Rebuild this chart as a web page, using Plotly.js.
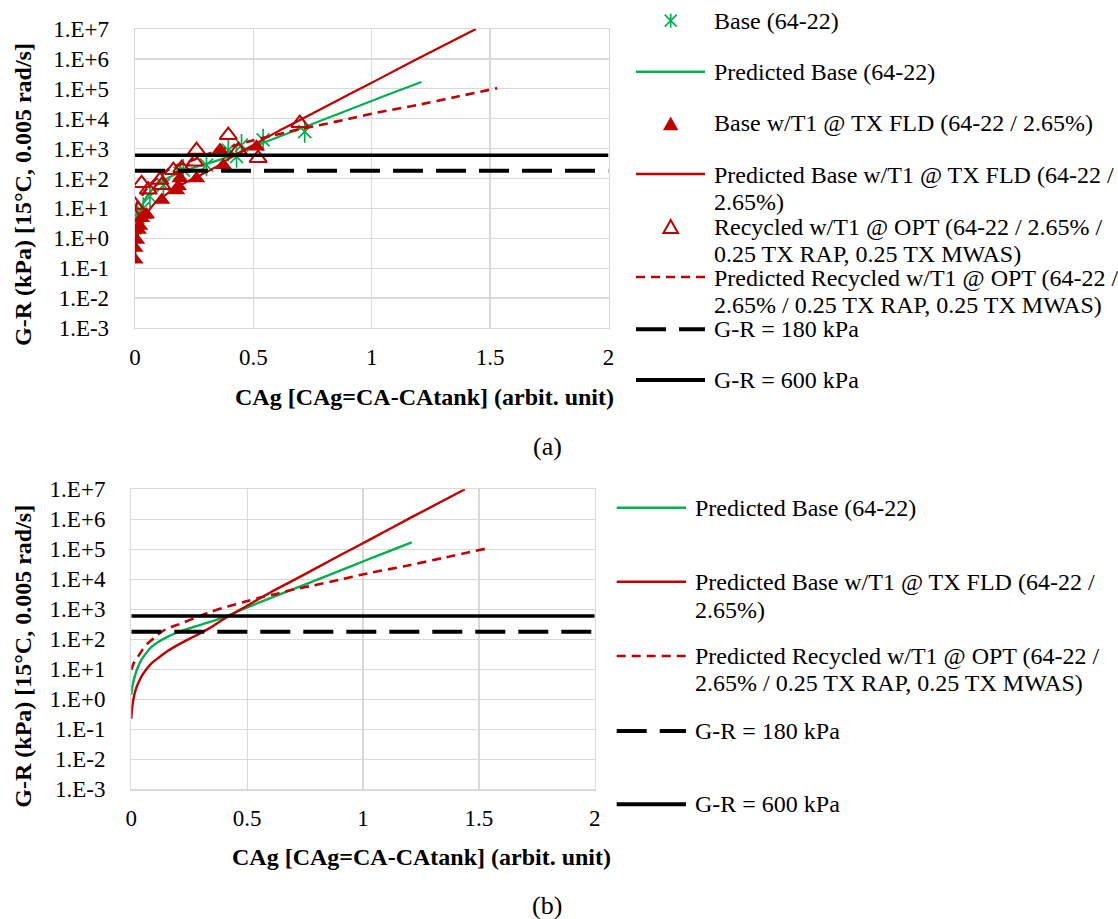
<!DOCTYPE html>
<html>
<head>
<meta charset="utf-8">
<script src="https://cdn.plot.ly/plotly-3.0.1.min.js"></script>
<style>html,body{margin:0;padding:0;background:#fff;}#chart{width:1118px;height:919px;}</style>
</head>
<body>
<div id="chart"></div>
<script>
// ---------- data ----------
const xTickVals = [0, 0.5, 1, 1.5, 2];
const xTickText = ['0', '0.5', '1', '1.5', '2'];
const yTickVals = [1e-3, 1e-2, 1e-1, 1e0, 1e1, 1e2, 1e3, 1e4, 1e5, 1e6, 1e7];
const yTickText = ['1.E-3', '1.E-2', '1.E-1', '1.E+0', '1.E+1', '1.E+2', '1.E+3', '1.E+4', '1.E+5', '1.E+6', '1.E+7'];

// measured: Base (64-22)
const baseX = [0, 0.005, 0.012, 0.035, 0.063, 0.12, 0.19, 0.204, 0.302, 0.394, 0.429, 0.45, 0.541, 0.717];
const baseY = [2.2, 3.5, 5, 10, 25, 60, 150, 190, 280, 890, 540, 1300, 1950, 3700];

// measured: Base w/T1 @ TX FLD
const t1X = [0, 0, 0.007, 0.014, 0.02, 0.028, 0.042, 0.049, 0.113, 0.176, 0.183, 0.19, 0.26, 0.359, 0.373, 0.513];
const t1Y = [0.19, 0.47, 0.87, 1.9, 2.6, 4.7, 6, 6.3, 19, 40, 55, 100, 100, 890, 280, 1150];

// measured: Recycled w/T1 @ OPT
const recX = [0, 0, 0.028, 0.056, 0.105, 0.113, 0.162, 0.197, 0.253, 0.26, 0.394, 0.436, 0.52, 0.696];
const recY = [13, 5.2, 69, 42, 89, 60, 190, 220, 360, 890, 2800, 890, 480, 7100];

// predicted curves
const predBaseX = [0, 0.005, 0.0145, 0.025, 0.043, 0.065, 0.087, 0.12, 0.158, 0.21, 0.273, 0.34, 0.403, 0.5, 0.6, 0.705, 0.8, 0.901, 1.021, 1.1, 1.21];
const predBaseY = [1.38, 2.82, 5.62, 10, 20.4, 35.5, 56.2, 85.1, 123, 182, 263, 380, 562, 1150, 2340, 4900, 9550, 19500, 45700, 79400, 170000];

const predT1X = [0, 0.005, 0.0145, 0.025, 0.043, 0.065, 0.087, 0.12, 0.158, 0.21, 0.273, 0.34, 0.403, 0.5, 0.6, 0.705, 0.8, 0.901, 1.021, 1.2, 1.44];
const predT1Y = [0.224, 0.631, 1.58, 2.82, 5.62, 10, 15.8, 25.1, 41.7, 70.8, 126, 240, 490, 1320, 3630, 9770, 24000, 63100, 195000, 1070000, 10000000];

const predRecX = [0, 0.01, 0.029, 0.05, 0.072, 0.1, 0.13, 0.17, 0.216, 0.28, 0.345, 0.42, 0.489, 0.56, 0.633, 0.7, 0.777, 0.9, 1.021, 1.2, 1.35, 1.53];
const predRecY = [9.55, 15.8, 26.3, 46.8, 74.1, 115, 178, 251, 339, 537, 832, 1260, 1780, 2510, 3390, 4570, 6030, 9770, 15800, 29500, 52500, 105000];

// threshold lines
const thrX = [0, 2];
const thr180 = [180, 180];
const thr600 = [600, 600];

// legend labels
const nameBase = 'Base (64-22)';
const namePredBase = 'Predicted Base (64-22)';
const nameT1 = 'Base w/T1 @ TX FLD (64-22 / 2.65%)';
const namePredT1 = ['Predicted Base w/T1 @ TX FLD (64-22 /', '2.65%)'];
const nameRec = ['Recycled w/T1 @ OPT (64-22 / 2.65% /', '0.25 TX RAP, 0.25 TX MWAS)'];
const namePredRecA = ['Predicted Recycled w/T1 @ OPT (64-22 /', '2.65% / 0.25 TX RAP, 0.25 TX MWAS)'];
const namePredRecB = ['Predicted Recycled w/T1 @ OPT (64-22 /', '2.65% / 0.25 TX RAP, 0.25 TX MWAS)'];
const name180 = 'G-R = 180 kPa';
const name600 = 'G-R = 600 kPa';
const yTitle = 'G-R (kPa) [15°C, 0.005 rad/s]';
const xTitle = 'CAg [CAg=CA-CAtank] (arbit. unit)';

// ---------- styling ----------
const W = 1118, H = 919;
const GREEN = '#00B050', RED = '#C00000', BLACK = '#000000';
const FONT = 'Liberation Serif, Times New Roman, serif';
const px = v => v / W;
const py = v => 1 - v / H;

function axisX(domain, anchor) {
  return {
    domain: domain, anchor: anchor, range: [0, 2], tickvals: xTickVals, ticktext: xTickText,
    showgrid: true, gridcolor: '#d9d9d9', gridwidth: 1.3, zeroline: false,
    showline: true, linecolor: '#d9d9d9', linewidth: 1.3, mirror: true,
    ticks: '', ticklabelstandoff: 8, tickfont: {family: FONT, size: 23, color: BLACK}, fixedrange: true
  };
}
function axisY(domain, anchor) {
  return {
    domain: domain, anchor: anchor, type: 'log', range: [-3, 7], tickvals: yTickVals, ticktext: yTickText,
    showgrid: true, gridcolor: '#d9d9d9', gridwidth: 1.3, zeroline: false,
    showline: true, linecolor: '#d9d9d9', linewidth: 1.3, mirror: true,
    ticks: '', ticklabelstandoff: 20, tickfont: {family: FONT, size: 23, color: BLACK}, fixedrange: true
  };
}

const lineSpline = {shape: 'spline', smoothing: 0.9};
const traces = [];
function curve(x, y, xa, ya, color, width, dash) {
  return {x: x, y: y, xaxis: xa, yaxis: ya, type: 'scatter', mode: 'lines', showlegend: false, hoverinfo: 'skip',
    line: Object.assign({color: color, width: width, dash: dash || 'solid'}, lineSpline)};
}
function hline(y, xa, ya, width, dash) {
  return {x: thrX, y: y, xaxis: xa, yaxis: ya, type: 'scatter', mode: 'lines', showlegend: false, hoverinfo: 'skip',
    line: {color: BLACK, width: width, dash: dash || 'solid'}};
}
const DASH_RED = '9px,6px';
const DASH_BLACK = '30px,13px';

// top panel (a)
traces.push({x: baseX, y: baseY, xaxis: 'x', yaxis: 'y', type: 'scatter', mode: 'markers', showlegend: false,
  marker: {symbol: 'x-thin-open', size: 13, color: GREEN, line: {color: GREEN, width: 1.7}}});
traces.push({x: baseX, y: baseY, xaxis: 'x', yaxis: 'y', type: 'scatter', mode: 'markers', showlegend: false,
  marker: {symbol: 'line-ns-open', size: 16, color: GREEN, line: {color: GREEN, width: 1.7}}});
traces.push(curve(predBaseX, predBaseY, 'x', 'y', GREEN, 2.2));
traces.push({x: t1X, y: t1Y, xaxis: 'x', yaxis: 'y', type: 'scatter', mode: 'markers', showlegend: false,
  marker: {symbol: 'triangle-up', size: 15, color: RED, line: {width: 0}}});
traces.push(curve(predT1X, predT1Y, 'x', 'y', RED, 2.2));
traces.push({x: recX, y: recY, xaxis: 'x', yaxis: 'y', type: 'scatter', mode: 'markers', showlegend: false,
  marker: {symbol: 'triangle-up-open', size: 15, color: RED, line: {color: RED, width: 2}}});
traces.push(curve(predRecX, predRecY, 'x', 'y', RED, 2.6, DASH_RED));
traces.push(hline(thr180, 'x', 'y', 4, DASH_BLACK));
traces.push(hline(thr600, 'x', 'y', 3.6));

// bottom panel (b)
traces.push(curve(predBaseX, predBaseY, 'x2', 'y2', GREEN, 2.4));
traces.push(curve(predT1X, predT1Y, 'x2', 'y2', RED, 2.4));
traces.push(curve(predRecX, predRecY, 'x2', 'y2', RED, 2.6, DASH_RED));
traces.push(hline(thr180, 'x2', 'y2', 4, DASH_BLACK));
traces.push(hline(thr600, 'x2', 'y2', 3.6));

// ---------- manual legends (Excel-style) ----------
const shapes = [];
const annotations = [];
function txt(text, x, y, size, extra) {
  annotations.push(Object.assign({text: text, xref: 'paper', yref: 'paper', x: px(x), y: py(y),
    xanchor: 'left', yanchor: 'middle', showarrow: false, font: {family: FONT, size: size || 24, color: BLACK}}, extra || {}));
}
function lineSample(x0, x1, y, color, width, dash) {
  shapes.push({type: 'line', xref: 'paper', yref: 'paper', x0: px(x0), x1: px(x1), y0: py(y), y1: py(y),
    line: {color: color, width: width, dash: dash || 'solid'}});
}
function segment(x0, y0, x1, y1, color, width) {
  shapes.push({type: 'line', xref: 'paper', yref: 'paper', x0: px(x0), x1: px(x1), y0: py(y0), y1: py(y1),
    line: {color: color, width: width}});
}
function triSample(cx, cy, filled) {
  const w = 7.3, h1 = 7, h2 = 6;
  const path = 'M' + px(cx - w) + ',' + py(cy + h2) + ' L' + px(cx + w) + ',' + py(cy + h2) + ' L' + px(cx) + ',' + py(cy - h1) + ' Z';
  shapes.push({type: 'path', xref: 'paper', yref: 'paper', path: path,
    fillcolor: filled ? RED : 'rgba(0,0,0,0)', line: {color: RED, width: filled ? 0.5 : 2}});
}
function starSample(cx, cy) {
  segment(cx, cy - 7, cx, cy + 7, GREEN, 1.7);
  segment(cx - 6, cy - 6, cx + 6, cy + 6, GREEN, 1.7);
  segment(cx - 6, cy + 6, cx + 6, cy - 6, GREEN, 1.7);
}

// top legend
const LX0 = 636, LX1 = 705, LT = 711.7, LM = 670.7;
starSample(LM, 20.7); txt(nameBase, LT, 20.7);
lineSample(LX0, LX1, 71.7, GREEN, 2.4); txt(namePredBase, LT, 71.7);
triSample(LM, 124, true); txt(nameT1, LT, 123.3);
lineSample(LX0, LX1, 174, RED, 2.4); txt(namePredT1[0], LT, 175); txt(namePredT1[1], LT, 201.7);
triSample(LM, 227, false); txt(nameRec[0], LT, 226.7); txt(nameRec[1], LT, 254);
lineSample(LX0, LX1, 277, RED, 2.6, DASH_RED); txt(namePredRecA[0], LT, 278.3); txt(namePredRecA[1], LT, 305);
lineSample(LX0, LX1, 329.3, BLACK, 4, DASH_BLACK); txt(name180, LT, 329.3);
lineSample(LX0, LX1, 380, BLACK, 4); txt(name600, LT, 380);

// bottom legend
const BX0 = 616.7, BX1 = 686, BT = 693.3;
lineSample(BX0, BX1, 507.7, GREEN, 2.4); txt(namePredBase, BT, 508.3);
lineSample(BX0, BX1, 581.7, RED, 2.4); txt(namePredT1[0], BT, 582.3); txt(namePredT1[1], BT, 610);
lineSample(BX0, BX1, 656, RED, 2.6, DASH_RED); txt(namePredRecB[0], BT, 656); txt(namePredRecB[1], BT, 683.3);
lineSample(BX0, BX1, 731, BLACK, 4, DASH_BLACK); txt(name180, BT, 731);
lineSample(BX0, BX1, 804.3, BLACK, 4); txt(name600, BT, 804.3);

// axis titles
const titleFont = {family: FONT, size: 24, color: BLACK, weight: 'bold'};
annotations.push({text: yTitle, xref: 'paper', yref: 'paper', x: px(23), y: py(195), textangle: -90,
  xanchor: 'center', yanchor: 'middle', showarrow: false, font: titleFont});
annotations.push({text: yTitle, xref: 'paper', yref: 'paper', x: px(23), y: py(656.7), textangle: -90,
  xanchor: 'center', yanchor: 'middle', showarrow: false, font: titleFont});
annotations.push({text: xTitle, xref: 'paper', yref: 'paper', x: px(424.5), y: py(397),
  xanchor: 'center', yanchor: 'middle', showarrow: false, font: titleFont});
annotations.push({text: xTitle, xref: 'paper', yref: 'paper', x: px(421), y: py(857),
  xanchor: 'center', yanchor: 'middle', showarrow: false, font: titleFont});
// panel labels
annotations.push({text: '(a)', xref: 'paper', yref: 'paper', x: px(547), y: py(446),
  xanchor: 'center', yanchor: 'middle', showarrow: false, font: {family: FONT, size: 26, color: BLACK}});
annotations.push({text: '(b)', xref: 'paper', yref: 'paper', x: px(547), y: py(905),
  xanchor: 'center', yanchor: 'middle', showarrow: false, font: {family: FONT, size: 26, color: BLACK}});

const layout = {
  width: W, height: H, margin: {l: 0, r: 0, t: 0, b: 0, pad: 0},
  paper_bgcolor: '#ffffff', plot_bgcolor: '#ffffff', showlegend: false,
  font: {family: FONT, size: 23, color: BLACK},
  xaxis: axisX([px(135), px(608.5)], 'y'),
  yaxis: axisY([py(328), py(29)], 'x'),
  xaxis2: axisX([px(131.3), px(594.7)], 'y2'),
  yaxis2: axisY([py(789.3), py(489.3)], 'x2'),
  shapes: shapes, annotations: annotations
};

Plotly.newPlot('chart', traces, layout, {staticPlot: true, displayModeBar: false});
</script>
</body>
</html>
